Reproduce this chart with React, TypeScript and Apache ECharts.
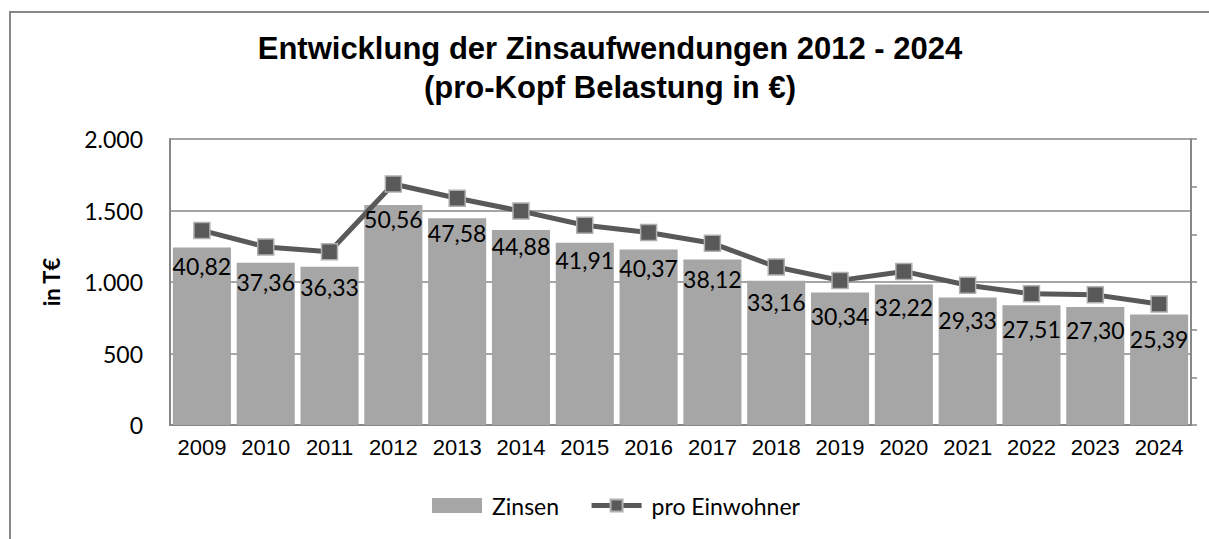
import React, { useEffect, useRef } from "react";
import * as echarts from "echarts";

const years = ["2009","2010","2011","2012","2013","2014","2015","2016","2017","2018","2019","2020","2021","2022","2023","2024"];
const zinsen = [1242, 1134, 1106, 1538, 1445, 1363, 1274, 1228, 1158, 1008, 927, 982, 892, 838, 826, 773];
const proEinwohner = [40.82, 37.36, 36.33, 50.56, 47.58, 44.88, 41.91, 40.37, 38.12, 33.16, 30.34, 32.22, 29.33, 27.51, 27.30, 25.39];
const titleLines = ["Entwicklung der Zinsaufwendungen 2012 - 2024", "(pro-Kopf Belastung in €)"];
const seriesNames = ["Zinsen", "pro Einwohner"];
const yAxisName = "in T€";

const fmtThousands = (v: number) =>
  v >= 1000 ? `${Math.floor(v / 1000)}.${String(v % 1000).padStart(3, "0")}` : String(v);
const fmtDec = (v: number) => v.toFixed(2).replace(".", ",");

const GRAY = "#878787";
const BODY_FONT = "Lato";

export default function App() {
  const ref = useRef<HTMLDivElement>(null);
  useEffect(() => {
    if (!ref.current) return;
    const chart = echarts.init(ref.current, null, { renderer: "svg" });
    chart.setOption({
      animation: false,
      backgroundColor: "#ffffff",
      title: {
        text: titleLines.join("\n"),
        left: 610,
        top: 29,
        padding: 0,
        textAlign: "center",
        textStyle: {
          fontFamily: "Liberation Sans",
          fontWeight: "bold",
          fontSize: 31,
          lineHeight: 39,
          color: "#000",
        },
      },
      graphic: [
        {
          type: "rect",
          shape: { x: 10, y: 12, width: 1300, height: 700 },
          style: { fill: "none", stroke: GRAY, lineWidth: 2 },
          silent: true,
          z: -1,
        },
      ],
      legend: {
        left: 427,
        top: 489,
        itemWidth: 50,
        itemHeight: 15,
        itemGap: 30,
        textStyle: { fontFamily: BODY_FONT, fontSize: 23, color: "#000", padding: [0, 0, 0, 5] },
        data: [
          { name: seriesNames[0], icon: "rect" },
          { name: seriesNames[1], lineStyle: { width: 5, color: "#595959" } },
        ],
      },
      grid: { left: 170, right: 18, top: 139, bottom: 114 },
      xAxis: {
        type: "category",
        data: years,
        axisLine: { show: true, lineStyle: { color: GRAY, width: 2 } },
        axisTick: { show: false },
        axisLabel: {
          fontFamily: "Liberation Sans",
          fontSize: 22,
          color: "#000",
          margin: 11,
          interval: 0,
        },
      },
      yAxis: [
        {
          type: "value",
          min: 0,
          max: 2000,
          interval: 500,
          name: yAxisName,
          nameLocation: "middle",
          nameGap: 108,
          nameRotate: 90,
          nameTextStyle: { fontFamily: BODY_FONT, fontWeight: "bold", fontSize: 22, color: "#000" },
          axisLine: { show: true, lineStyle: { color: GRAY, width: 2 } },
          axisTick: { show: false },
          axisLabel: {
            fontFamily: BODY_FONT,
            fontSize: 23,
            color: "#000",
            margin: 27,
            formatter: (v: number) => fmtThousands(v),
          },
          splitLine: { show: true, lineStyle: { color: GRAY, width: 1.5 } },
        },
        {
          type: "value",
          min: 0,
          max: 60,
          interval: 10,
          position: "right",
          axisLine: { show: true, lineStyle: { color: GRAY, width: 2 } },
          axisTick: { show: true, length: 6, inside: false, lineStyle: { color: GRAY, width: 1.5 } },
          axisLabel: { show: false },
          splitLine: { show: false },
        },
      ],
      series: [
        {
          name: seriesNames[0],
          type: "bar",
          yAxisIndex: 0,
          data: zinsen,
          barCategoryGap: "9%",
          itemStyle: { color: "#a6a6a6" },
        },
        {
          name: seriesNames[1],
          type: "line",
          yAxisIndex: 1,
          data: proEinwohner,
          symbol: "rect",
          symbolSize: 16,
          lineStyle: { color: "#595959", width: 5 },
          itemStyle: { color: "#595959", borderColor: "#b0b0b0", borderWidth: 1.5 },
          label: {
            show: true,
            position: "bottom",
            distance: 15,
            fontFamily: BODY_FONT,
            fontSize: 23,
            color: "#000",
            formatter: (p: any) => fmtDec(p.value),
          },
          z: 5,
        },
      ],
    });
    return () => chart.dispose();
  }, []);
  return (
    <div
      ref={ref}
      style={{ position: "absolute", left: 0, top: 0, width: 1209, height: 539 }}
    />
  );
}
